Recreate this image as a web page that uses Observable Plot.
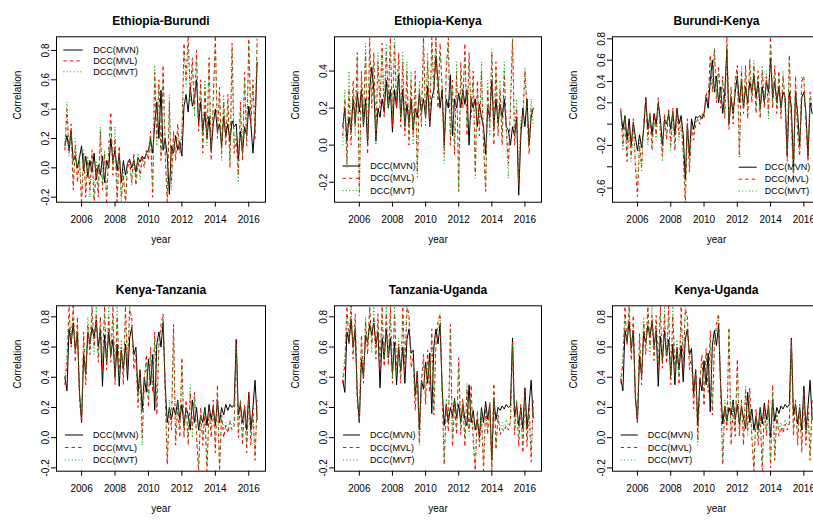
<!DOCTYPE html>
<html>
<head>
<meta charset="utf-8">
<script src="https://cdn.jsdelivr.net/npm/d3@7"></script>
<script src="https://cdn.jsdelivr.net/npm/@observablehq/plot@0.6"></script>
<style>
html, body { margin: 0; padding: 0; background: #fff; }
#chart { position: relative; width: 813px; height: 520px; overflow: hidden; background: #fff; }
#chart svg { position: absolute; }
</style>
</head>
<body>
<div id="chart"></div>
<script>
// ---------- data ----------
const firstYear = 2005;          // first observation
const obsPerYear = 8;            // one value every 1.5 months
const titles = ["Ethiopia-Burundi", "Ethiopia-Kenya", "Burundi-Kenya", "Kenya-Tanzania", "Tanzania-Uganda", "Kenya-Uganda"];
const seriesNames = ["DCC(MVN)", "DCC(MVL)", "DCC(MVT)"];
const xLabel = "year";
const yLabel = "Correlation";
const xTicks = [2006, 2008, 2010, 2012, 2014, 2016];
const xTickLabels = ["2006", "2008", "2010", "2012", "2014", "2016"];
const yTicksA = [-0.2, 0, 0.2, 0.4, 0.6, 0.8];
const yTickLabelsA = ["-0.2", "0.0", "0.2", "0.4", "0.6", "0.8"];
const yTicksB = [-0.2, 0, 0.2, 0.4];
const yTickLabelsB = ["-0.2", "0.0", "0.2", "0.4"];
const yTicksC = [-0.6, -0.4, -0.2, 0, 0.2, 0.4, 0.6, 0.8];
const yTickLabelsC = ["-0.6", "", "-0.2", "", "0.2", "0.4", "0.6", "0.8"];

// Ethiopia-Burundi
const ebMVN = [0.15,0.22,0.12,0.25,0.05,0.08,0.00,0.07,
  0.15,-0.02,0.08,-0.06,0.05,-0.03,0.10,-0.08,
  0.02,-0.05,0.08,-0.10,0.05,0.00,0.20,0.05,
  0.12,-0.02,0.10,-0.10,0.05,-0.05,0.03,0.06,
  0.00,0.05,-0.03,0.07,0.04,0.08,0.06,0.10,
  0.12,0.20,0.10,0.30,0.45,0.20,0.53,0.12,
  0.20,0.08,-0.18,0.15,0.10,0.22,0.12,0.18,
  0.08,0.42,0.50,0.38,0.55,0.42,0.48,0.60,
  0.30,0.45,0.25,0.38,0.20,0.35,0.12,0.30,
  0.40,0.25,0.30,0.15,0.35,0.22,0.30,0.18,
  0.32,0.28,0.30,0.05,0.25,0.10,0.28,0.22,
  0.42,0.30,0.10,0.30,0.72];
const ebMVL = [0.12,0.40,0.10,0.30,-0.15,0.15,-0.10,0.05,
  -0.25,0.10,-0.20,0.05,-0.15,0.12,-0.25,0.00,
  -0.20,0.25,-0.15,0.10,-0.25,0.15,0.38,-0.05,
  0.20,-0.25,0.15,-0.20,-0.05,-0.25,0.00,0.05,
  -0.10,0.10,-0.12,0.05,-0.05,0.08,0.00,0.12,
  0.05,0.25,-0.20,0.65,0.20,0.60,0.05,0.70,
  0.10,-0.25,0.45,-0.10,0.25,0.05,0.30,0.10,
  0.20,0.85,0.60,0.90,0.50,0.75,0.40,0.80,
  0.25,0.60,0.10,0.55,0.20,0.75,0.05,0.45,
  0.90,0.20,0.55,0.10,0.45,0.15,0.50,0.00,
  0.85,0.10,0.20,-0.05,0.45,0.05,0.65,0.15,
  0.88,0.30,0.60,0.20,0.88];
const ebMVT = [0.15,0.45,0.08,0.25,-0.12,0.20,-0.05,0.10,
  -0.20,0.12,-0.15,0.08,-0.20,0.10,-0.20,0.05,
  -0.15,0.28,-0.10,0.12,-0.20,0.10,0.30,0.00,
  0.28,-0.20,0.12,-0.25,0.00,-0.22,0.05,0.02,
  -0.12,0.08,-0.10,0.10,-0.08,0.06,0.02,0.10,
  0.08,0.20,-0.15,0.70,0.15,0.55,0.10,0.65,
  0.15,-0.20,0.50,-0.15,0.20,0.10,0.25,0.15,
  0.25,0.80,0.55,0.85,0.45,0.70,0.35,0.75,
  0.30,0.55,0.15,0.60,0.15,0.70,0.10,0.50,
  0.85,0.25,0.50,0.05,0.50,0.20,0.45,0.05,
  0.80,0.15,0.25,-0.10,0.40,0.10,0.60,0.20,
  0.85,0.35,0.55,0.25,0.85];

// Ethiopia-Kenya
const ekMVN = [0.10,0.20,0.02,0.15,0.08,0.25,0.12,0.28,
  0.18,0.30,0.10,0.25,0.00,0.30,0.42,0.30,
  0.02,0.20,0.15,0.25,0.18,0.35,0.20,0.30,
  0.07,0.30,0.20,0.38,0.15,0.30,0.10,0.22,
  0.12,0.25,0.08,0.20,0.15,0.28,0.18,0.25,
  0.15,0.32,0.10,0.25,0.30,0.48,0.35,0.20,
  0.30,0.00,0.25,0.20,0.38,0.05,0.25,0.20,
  0.28,0.20,0.30,0.22,0.30,0.00,0.25,0.20,
  0.25,0.10,0.22,0.15,0.10,-0.05,0.20,0.15,
  0.35,0.10,0.25,0.12,0.22,0.15,0.25,0.10,
  0.08,0.00,0.10,0.05,0.15,-0.27,0.05,0.20,
  0.10,0.25,0.00,0.15,0.20];
const ekMVL = [0.05,0.25,-0.10,0.30,0.00,0.35,0.10,0.50,
  -0.25,0.40,0.15,0.50,-0.05,0.58,0.20,0.50,
  0.05,0.45,0.20,0.55,0.15,0.50,0.25,0.58,
  0.10,0.55,0.20,0.50,0.10,0.45,0.05,0.40,
  0.00,0.35,0.05,0.40,-0.15,0.30,0.10,0.58,
  0.15,0.45,0.10,0.58,0.30,0.58,0.20,0.55,
  0.30,-0.05,0.40,0.58,0.00,0.35,-0.05,0.40,
  -0.25,0.45,0.20,0.55,0.05,0.50,0.15,0.40,
  -0.15,0.35,0.05,0.40,0.00,-0.25,0.30,0.10,
  0.50,0.00,0.45,0.05,0.30,0.00,0.40,0.10,
  -0.10,0.20,0.57,0.00,0.20,-0.22,0.10,0.15,
  0.40,0.20,-0.05,0.20,0.15];
const ekMVT = [0.00,0.30,-0.12,0.40,0.05,0.30,0.05,0.48,
  -0.28,0.35,0.10,0.55,0.00,0.52,0.25,0.45,
  0.00,0.50,0.25,0.50,0.20,0.55,0.20,0.52,
  0.15,0.58,0.25,0.45,0.15,0.50,0.10,0.45,
  0.05,0.40,0.00,0.35,-0.18,0.35,0.15,0.55,
  0.10,0.50,0.15,0.55,0.25,0.58,0.25,0.50,
  0.35,-0.10,0.45,0.55,0.05,0.30,0.00,0.45,
  -0.25,0.40,0.25,0.50,0.10,0.45,0.20,0.35,
  -0.18,0.30,0.10,0.45,0.05,-0.25,0.35,0.05,
  0.52,0.05,0.40,0.10,0.35,0.05,0.45,0.05,
  -0.18,0.25,0.58,0.05,0.25,-0.20,0.15,0.10,
  0.42,0.15,0.00,0.25,0.10];

// Burundi-Kenya
const bkMVN = [0.12,-0.05,0.08,-0.15,0.05,-0.20,0.02,-0.12,
  -0.25,-0.10,-0.22,-0.05,0.25,-0.05,0.08,-0.10,
  0.10,0.00,0.20,0.05,-0.20,0.05,0.00,0.10,
  -0.05,0.12,-0.10,0.15,0.00,0.08,-0.10,-0.52,
  0.00,-0.30,0.05,-0.05,0.07,0.06,0.08,0.05,
  0.10,0.25,0.15,0.40,0.60,0.30,0.45,0.20,
  0.35,0.10,0.30,0.70,0.00,0.25,0.10,0.30,
  0.45,0.20,0.40,0.15,0.35,0.20,0.40,0.30,
  0.45,0.25,0.40,0.15,0.35,0.20,0.40,0.30,
  0.62,0.25,0.40,0.20,0.35,0.15,0.30,0.25,
  -0.30,0.30,0.15,-0.40,0.30,0.10,-0.20,0.25,
  0.30,0.10,-0.30,0.20,0.10];
const bkMVL = [0.15,-0.20,0.05,-0.35,0.00,-0.30,0.05,-0.40,
  -0.68,-0.20,-0.40,0.00,0.25,-0.15,0.10,-0.25,
  0.10,-0.10,0.25,-0.05,-0.30,0.10,-0.15,0.15,
  -0.20,0.15,-0.25,0.15,-0.10,0.05,-0.25,-0.78,
  0.05,-0.45,0.00,-0.15,0.00,0.05,0.00,0.10,
  0.05,0.30,0.20,0.65,0.30,0.70,0.20,0.55,
  0.15,0.45,0.05,0.82,-0.05,0.35,0.00,0.40,
  0.55,-0.30,0.50,0.10,0.55,0.05,0.60,0.20,
  0.55,0.10,0.50,0.05,0.50,0.15,0.45,0.10,
  0.82,0.15,0.55,0.10,0.50,0.05,0.45,0.20,
  -0.35,0.65,0.00,-0.50,0.45,-0.10,-0.30,0.40,
  0.45,0.00,-0.35,0.30,0.15];
const bkMVT = [0.12,-0.25,0.08,-0.30,-0.05,-0.35,0.00,-0.35,
  -0.60,-0.15,-0.45,0.05,0.22,-0.20,0.12,-0.20,
  0.05,-0.15,0.20,-0.10,-0.35,0.05,-0.10,0.12,
  -0.25,0.12,-0.20,0.10,-0.15,0.00,-0.30,-0.70,
  0.00,-0.42,-0.05,-0.10,0.02,0.03,0.05,0.08,
  0.10,0.25,0.25,0.60,0.35,0.72,0.25,0.50,
  0.20,0.40,0.10,0.75,0.00,0.30,0.05,0.45,
  0.50,-0.32,0.55,0.15,0.50,0.10,0.62,0.25,
  0.60,0.15,0.45,0.10,0.55,0.20,0.50,0.05,
  0.75,0.20,0.50,0.15,0.45,0.10,0.50,0.15,
  -0.30,0.60,0.05,-0.55,0.40,-0.05,-0.25,0.45,
  0.40,0.05,-0.30,0.25,0.20];

// Kenya-Tanzania
const ktMVN = [0.40,0.31,0.72,0.62,0.76,0.58,0.70,0.30,
  0.10,0.55,0.42,0.70,0.62,0.73,0.66,0.78,
  0.60,0.72,0.34,0.68,0.50,0.70,0.55,0.65,
  0.40,0.62,0.34,0.58,0.45,0.62,0.38,0.66,
  0.73,0.55,0.60,0.30,0.45,0.18,0.40,0.30,
  0.52,0.35,0.55,0.18,0.62,0.70,0.60,0.76,
  0.35,0.10,0.20,0.12,0.20,0.15,0.25,0.12,
  0.22,0.08,0.20,0.15,0.05,0.25,0.10,0.20,
  0.05,0.15,0.10,0.20,0.08,0.22,0.12,0.20,
  0.08,0.25,0.10,0.20,0.15,0.22,0.18,0.22,
  0.20,0.22,0.65,0.15,0.22,0.10,0.20,0.05,
  0.30,0.05,0.20,0.38,0.12];
const ktMVL = [0.35,0.50,0.87,0.60,0.87,0.50,0.80,0.25,
  0.10,0.70,0.35,0.75,0.55,0.87,0.60,0.82,
  0.50,0.80,0.45,0.87,0.45,0.80,0.50,0.87,
  0.35,0.80,0.45,0.60,0.35,0.87,0.45,0.85,
  0.80,0.45,0.55,0.20,0.45,0.00,0.35,0.55,
  0.20,0.60,0.30,0.70,0.15,0.60,0.75,0.82,
  0.30,-0.18,0.20,0.05,0.75,-0.05,0.20,0.00,
  0.53,0.00,0.25,-0.05,0.30,0.05,0.30,0.00,
  -0.22,0.20,-0.05,0.15,-0.22,0.20,0.00,0.25,
  -0.10,0.35,-0.22,0.15,0.00,0.08,0.03,0.10,
  0.05,0.08,0.65,0.00,0.25,-0.05,0.22,-0.10,
  0.30,-0.05,0.20,-0.15,0.25];
const ktMVT = [0.40,0.55,0.80,0.65,0.87,0.55,0.75,0.30,
  0.12,0.65,0.40,0.80,0.60,0.85,0.55,0.87,
  0.55,0.75,0.50,0.82,0.50,0.87,0.55,0.80,
  0.40,0.87,0.40,0.65,0.40,0.80,0.50,0.87,
  0.75,0.50,0.50,0.25,0.40,-0.05,0.40,0.50,
  0.25,0.55,0.35,0.65,0.20,0.65,0.70,0.80,
  0.35,-0.15,0.25,0.10,0.70,0.00,0.25,0.05,
  0.48,0.05,0.20,0.00,0.35,0.00,0.25,0.05,
  -0.20,0.15,0.00,0.20,-0.18,0.15,0.05,0.20,
  -0.05,0.30,-0.20,0.15,0.05,0.10,0.05,0.12,
  0.08,0.10,0.60,0.05,0.25,0.00,0.20,-0.05,
  0.25,0.00,0.15,-0.12,0.20];

// Tanzania-Uganda
const tuMVN = [0.38,0.30,0.70,0.63,0.78,0.60,0.72,0.28,
  0.10,0.52,0.40,0.68,0.63,0.75,0.68,0.76,
  0.62,0.70,0.33,0.66,0.52,0.72,0.53,0.66,
  0.42,0.63,0.35,0.60,0.44,0.60,0.36,0.65,
  0.72,0.56,0.58,0.28,0.44,0.05,0.38,0.32,
  0.50,0.36,0.56,0.16,0.60,0.72,0.62,0.75,
  0.33,0.08,0.22,0.10,0.20,0.14,0.26,0.13,
  0.22,0.10,0.22,0.12,0.08,0.35,0.10,0.18,
  0.05,0.12,0.00,0.20,0.10,0.24,0.12,0.22,
  -0.15,0.25,0.12,0.20,0.18,0.21,0.19,0.22,
  0.20,0.21,0.66,0.14,0.22,0.08,0.20,0.06,
  0.33,0.06,0.22,0.38,0.13];
const tuMVL = [0.36,0.48,0.87,0.62,0.87,0.52,0.82,0.24,
  0.10,0.68,0.36,0.77,0.55,0.87,0.62,0.80,
  0.52,0.82,0.44,0.87,0.47,0.82,0.48,0.87,
  0.36,0.82,0.45,0.62,0.36,0.87,0.43,0.86,
  0.82,0.46,0.53,0.18,0.45,-0.04,0.36,0.55,
  0.22,0.58,0.30,0.72,0.15,0.62,0.77,0.82,
  0.30,-0.18,0.22,0.04,0.75,-0.06,0.22,0.02,
  0.53,0.02,0.26,-0.06,0.32,0.05,0.35,-0.02,
  -0.22,0.18,-0.06,0.14,-0.22,0.22,0.02,0.24,
  -0.22,0.36,-0.08,0.15,0.02,0.06,0.04,0.08,
  0.05,0.10,0.64,0.02,0.24,-0.06,0.22,-0.10,
  0.32,-0.06,0.22,-0.16,0.26];
const tuMVT = [0.40,0.54,0.82,0.66,0.87,0.56,0.76,0.30,
  0.12,0.64,0.40,0.80,0.60,0.85,0.56,0.87,
  0.56,0.76,0.50,0.82,0.50,0.87,0.54,0.80,
  0.40,0.87,0.41,0.66,0.40,0.80,0.50,0.87,
  0.76,0.50,0.50,0.24,0.40,-0.05,0.40,0.50,
  0.26,0.55,0.36,0.66,0.20,0.65,0.72,0.82,
  0.35,-0.15,0.26,0.10,0.72,0.00,0.26,0.06,
  0.48,0.06,0.22,0.00,0.36,0.02,0.28,0.04,
  -0.20,0.16,0.00,0.20,-0.18,0.16,0.06,0.20,
  -0.20,0.30,-0.05,0.15,0.06,0.10,0.06,0.12,
  0.08,0.10,0.62,0.05,0.25,0.00,0.20,-0.06,
  0.26,0.00,0.16,-0.12,0.20];

// Kenya-Uganda
const kuMVN = [0.39,0.31,0.71,0.64,0.77,0.59,0.71,0.27,
  0.10,0.54,0.41,0.69,0.63,0.74,0.67,0.77,
  0.61,0.71,0.34,0.67,0.51,0.71,0.54,0.65,
  0.41,0.62,0.35,0.59,0.45,0.61,0.37,0.65,
  0.72,0.55,0.59,0.29,0.45,0.08,0.39,0.31,
  0.51,0.35,0.56,0.17,0.61,0.71,0.61,0.75,
  0.34,0.09,0.21,0.11,0.20,0.15,0.25,0.12,
  0.22,0.09,0.21,0.13,0.06,0.30,0.10,0.19,
  0.05,0.14,0.05,0.20,0.09,0.23,0.12,0.21,
  0.00,0.25,0.11,0.20,0.16,0.21,0.19,0.22,
  0.20,0.22,0.66,0.15,0.22,0.09,0.20,0.05,
  0.34,0.05,0.21,0.38,0.12];
const kuMVL = [0.36,0.49,0.87,0.61,0.87,0.51,0.81,0.25,
  0.10,0.69,0.35,0.76,0.55,0.87,0.61,0.81,
  0.51,0.81,0.45,0.87,0.46,0.81,0.49,0.87,
  0.35,0.81,0.45,0.61,0.35,0.87,0.44,0.85,
  0.81,0.45,0.54,0.19,0.45,-0.02,0.35,0.55,
  0.21,0.59,0.30,0.71,0.15,0.61,0.76,0.82,
  0.30,-0.18,0.21,0.05,0.73,-0.05,0.21,0.01,
  0.52,0.01,0.25,-0.05,0.31,0.05,0.33,-0.01,
  -0.22,0.19,-0.05,0.15,-0.22,0.21,0.01,0.25,
  -0.20,0.35,-0.15,0.15,0.01,0.07,0.03,0.09,
  0.05,0.09,0.65,0.01,0.25,-0.05,0.22,-0.10,
  0.31,-0.05,0.21,-0.15,0.25];
const kuMVT = [0.40,0.55,0.81,0.65,0.87,0.55,0.75,0.30,
  0.12,0.65,0.40,0.80,0.60,0.85,0.55,0.87,
  0.55,0.75,0.50,0.82,0.50,0.87,0.55,0.80,
  0.40,0.87,0.40,0.65,0.40,0.80,0.50,0.87,
  0.75,0.50,0.50,0.25,0.40,-0.05,0.40,0.50,
  0.25,0.55,0.35,0.65,0.20,0.65,0.71,0.81,
  0.35,-0.15,0.25,0.10,0.71,0.00,0.25,0.05,
  0.48,0.05,0.21,0.00,0.35,0.01,0.26,0.05,
  -0.20,0.15,0.00,0.20,-0.18,0.15,0.05,0.20,
  -0.15,0.30,-0.12,0.15,0.05,0.10,0.05,0.12,
  0.08,0.10,0.61,0.05,0.25,0.00,0.20,-0.05,
  0.25,0.00,0.15,-0.12,0.20];

// ---------- layout & style ----------
const xDomain = [2004.5, 2017.0];
const seriesStyles = [
  {stroke: "#000000", dash: null},
  {stroke: "#FF0000", dash: "3.3,3.3"},
  {stroke: "#00B000", dash: "1,2.4"}
];
const panels = [
  {title: titles[0], values: [ebMVN, ebMVL, ebMVT], yDomain: [-0.234, 0.893], yTicks: yTicksA, yLabels: yTickLabelsA, box: [56, 265], row: 0, legend: {pos: "top", lx: [7.3, 26.7], tx: 37.3, ys: [13.7, 24.6, 35.5]}},
  {title: titles[1], values: [ekMVN, ekMVL, ekMVT], yDomain: [-0.308, 0.585], yTicks: yTicksB, yLabels: yTickLabelsB, box: [334, 541], row: 0, legend: {pos: "bottom", lx: [8.5, 26], tx: 36.3, ys: [35.7, 23.4, 11.2]}},
  {title: titles[2], values: [bkMVN, bkMVL, bkMVT], yDomain: [-0.732, 0.819], yTicks: yTicksC, yLabels: yTickLabelsC, box: [612.3, 820.3], row: 0, legend: {pos: "bottom", lx: [126.7, 144.7], tx: 152.7, ys: [34.5, 22.5, 10.7]}},
  {title: titles[3], values: [ktMVN, ktMVL, ktMVT], yDomain: [-0.222, 0.873], yTicks: yTicksA, yLabels: yTickLabelsA, box: [56, 265], row: 1, legend: {pos: "bottom", lx: [9, 27], tx: 37, ys: [35.7, 23.2, 10.7]}},
  {title: titles[4], values: [tuMVN, tuMVL, tuMVT], yDomain: [-0.222, 0.873], yTicks: yTicksA, yLabels: yTickLabelsA, box: [334, 541], row: 1, legend: {pos: "bottom", lx: [9, 26], tx: 36, ys: [35.7, 23.2, 10.7]}},
  {title: titles[5], values: [kuMVN, kuMVL, kuMVT], yDomain: [-0.222, 0.873], yTicks: yTicksA, yLabels: yTickLabelsA, box: [612.3, 820.3], row: 1, legend: {pos: "bottom", lx: [8.7, 25.7], tx: 35.7, ys: [35.7, 23.2, 10.7]}}
];
const rowTops = [0, 268.7];
const ML = 62, MR = 10, MT = 36.3, MB = 58.3, H = 260;
const FONT = "'Liberation Sans', Arial, Helvetica, sans-serif";
const chart = document.getElementById("chart");

const xLabelMap = new Map(xTicks.map((t, i) => [t, xTickLabels[i]]));

panels.forEach(p => {
  const bw = p.box[1] - p.box[0];
  const W = ML + bw + MR;
  const yLabelMap = new Map(p.yTicks.map((t, i) => [t, p.yLabels[i]]));
  const lineMarks = p.values.map((vals, k) => {
    const rows = vals.map((v, i) => ({t: firstYear + i / obsPerYear, v}));
    const st = seriesStyles[k];
    return Plot.line(rows, {
      x: "t", y: "v", stroke: st.stroke, strokeWidth: 1,
      strokeDasharray: st.dash || undefined,
      strokeLinecap: st.dash ? "butt" : "round",
      clip: true
    });
  });
  const svg = Plot.plot({
    width: W, height: H,
    marginLeft: ML, marginRight: MR, marginTop: MT, marginBottom: MB,
    style: {background: "transparent", fontFamily: FONT, fontSize: "10px", color: "#000", overflow: "visible"},
    x: {domain: xDomain, axis: null, label: null},
    y: {domain: p.yDomain, axis: null, label: null},
    marks: [
      ...lineMarks,
      Plot.frame({stroke: "#000", strokeWidth: 1}),
      Plot.axisX(xTicks, {anchor: "bottom", tickSize: 5, tickPadding: 9, tickFormat: d => xLabelMap.get(d), fontSize: 10, label: null}),
      Plot.axisY(p.yTicks, {anchor: "left", tickSize: 5, tickPadding: 2.5, tickRotate: -90, tickFormat: d => yLabelMap.get(d), fontSize: 10, label: null}),
      Plot.text([p.title], {text: d => d, frameAnchor: "top", dy: -20.8, fontWeight: "bold", fontSize: 12, fill: "#000"}),
      Plot.text([xLabel], {text: d => d, frameAnchor: "bottom", dy: 40.8, fontSize: 10, fill: "#000"}),
      Plot.text([yLabel], {text: d => d, frameAnchor: "left", dx: -39, rotate: -90, fontSize: 10, fill: "#000"})
    ]
  });
  svg.style.left = (p.box[0] - ML) + "px";
  svg.style.top = rowTops[p.row] + "px";

  // legend (no box), drawn inside the plotting region like R's legend()
  const g = d3.select(svg).append("g")
    .attr("font-family", FONT).attr("font-size", 9).attr("text-anchor", "start");
  const lg = p.legend;
  seriesNames.forEach((name, k) => {
    const y = lg.pos === "top" ? MT + lg.ys[k] : (H - MB) - lg.ys[k];
    const st = seriesStyles[k];
    const ln = g.append("line")
      .attr("x1", ML + lg.lx[0]).attr("x2", ML + lg.lx[1])
      .attr("y1", y).attr("y2", y)
      .attr("stroke", st.stroke).attr("stroke-width", 1);
    if (st.dash) ln.attr("stroke-dasharray", st.dash);
    g.append("text").attr("x", ML + lg.tx).attr("y", y).attr("dy", "0.35em")
      .attr("text-anchor", "start").attr("fill", "#000").text(name);
  });
  chart.appendChild(svg);
});
</script>
</body>
</html>
